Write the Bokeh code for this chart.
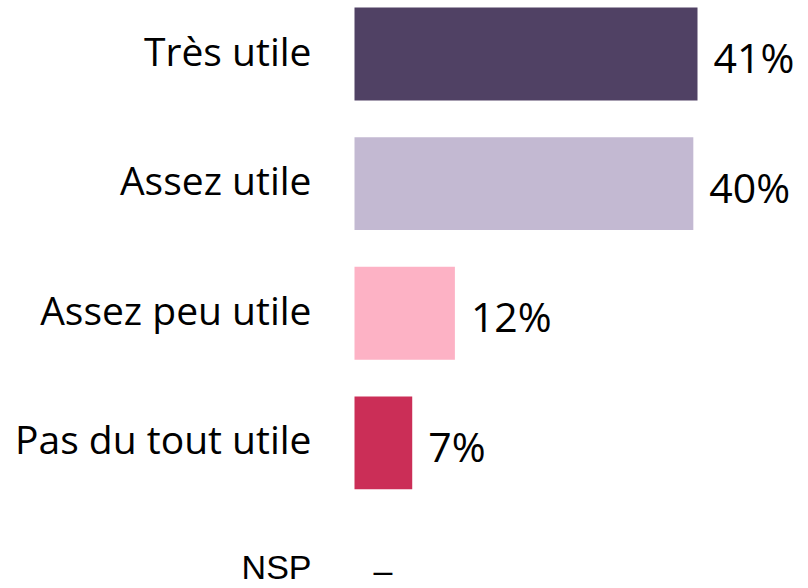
from bokeh.plotting import figure
from bokeh.models import ColumnDataSource, Range1d
from bokeh.core.properties import value
from bokeh.embed import file_html
from bokeh.resources import INLINE

categories = ["Très utile", "Assez utile", "Assez peu utile", "Pas du tout utile", "NSP"]
values = [41.0, 40.5, 12.0, 6.9, 0.0]
labels = ["41%", "40%", "12%", "7%", "–"]
colors = ["#504164", "#c3b9d2", "#fdb2c5", "#cb2e57", "#ffffff"]

pos = list(range(len(categories)))
main = ColumnDataSource(dict(y=pos[:4], cat=categories[:4], val=values[:4], lab=labels[:4]))
nsp = ColumnDataSource(dict(y=pos[4:], cat=categories[4:], val=values[4:], lab=labels[4:]))

W, H = 808, 588
px_per_unit = 8.366
x0_px = 354.0
row0_px = 53.5
row_step = 129.625

p = figure(width=W, height=H, output_backend="svg", toolbar_location=None,
           x_range=Range1d(-x0_px / px_per_unit, (W - x0_px) / px_per_unit),
           y_range=Range1d((H - row0_px) / row_step, -row0_px / row_step),
           min_border=0, outline_line_color=None,
           x_axis_location=None, y_axis_location=None)
p.xgrid.visible = False
p.ygrid.visible = False
p.background_fill_color = "white"
p.border_fill_color = "white"

p.hbar(y="y", left=0, right="val", height=0.717, fill_color="col", line_color=None,
       source=ColumnDataSource(dict(y=pos[:4], val=values[:4], col=colors[:4])))

p.text(x=0, y="y", text="cat", source=main, x_offset=-43, y_offset=-4,
       text_align="right", text_baseline="alphabetic",
       text_font=value("Open Sans"), text_font_size="39px", text_color="#000000")
p.text(x="val", y="y", text="lab", source=main, x_offset=16, y_offset=3,
       text_align="left", text_baseline="alphabetic",
       text_font=value("Open Sans"), text_font_size="41px", text_color="#000000")

p.text(x=0, y="y", text="cat", source=nsp, x_offset=-43, y_offset=-6,
       text_align="right", text_baseline="alphabetic",
       text_font=value("Liberation Sans"), text_font_size="34px", text_color="#000000")
p.text(x="val", y="y", text="lab", source=nsp, x_offset=19, y_offset=-3,
       text_align="left", text_baseline="alphabetic",
       text_font=value("Liberation Sans"), text_font_size="34px", text_color="#000000")

open("out.html", "w").write(file_html(p, INLINE))
